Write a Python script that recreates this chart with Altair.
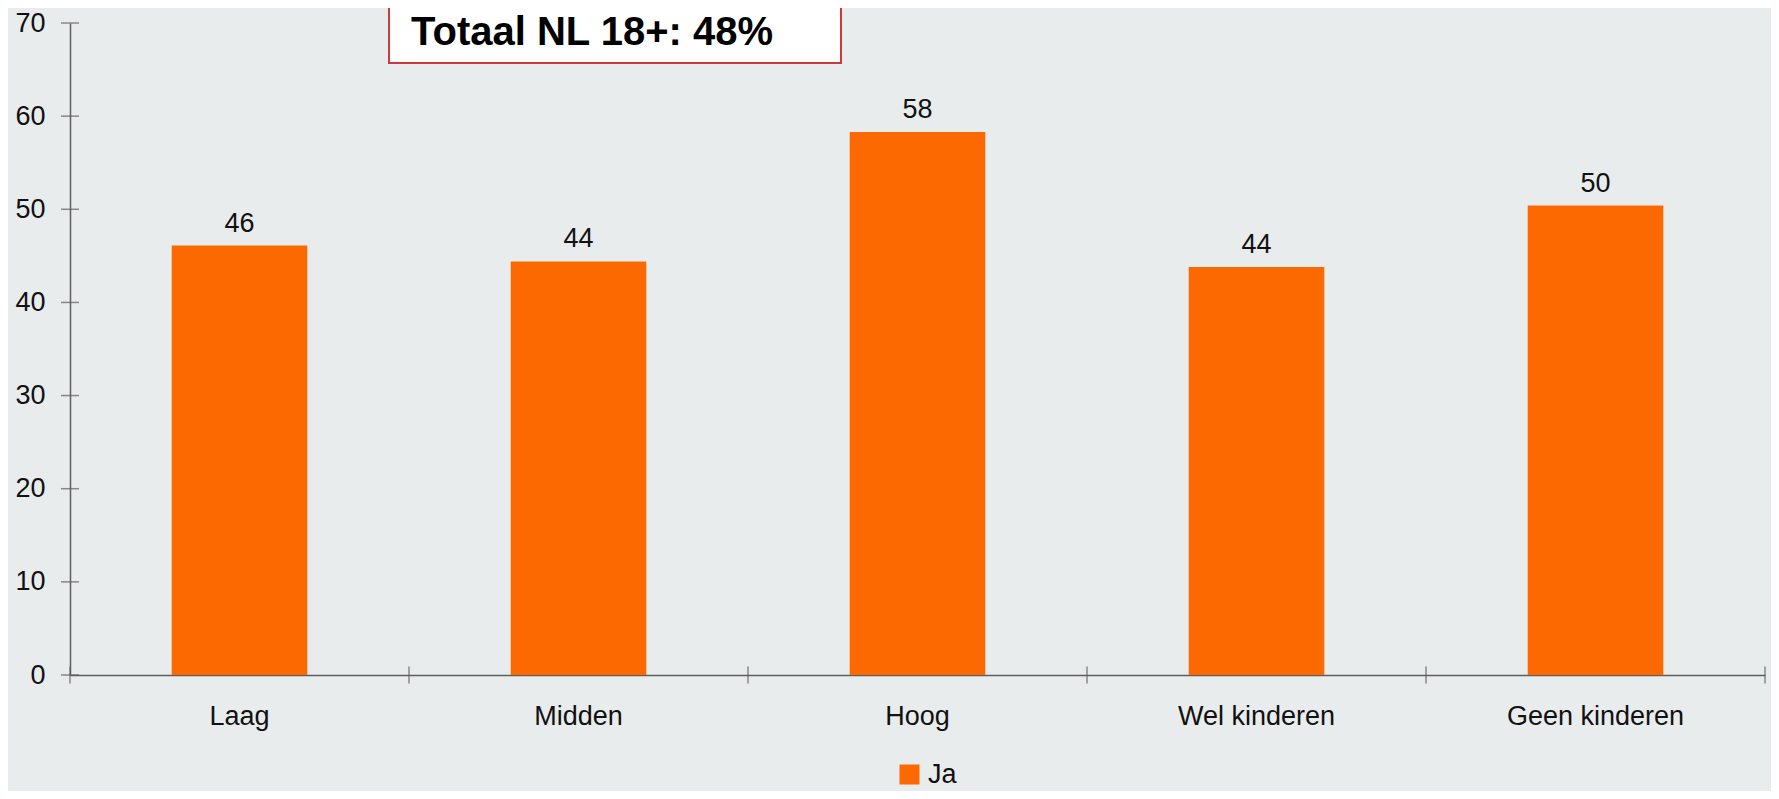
import altair as alt
import pandas as pd

# ---- data ----
categories = ["Laag", "Midden", "Hoog", "Wel kinderen", "Geen kinderen"]
values = [46.1, 44.4, 58.3, 43.8, 50.4]
series_name = "Ja"
y_ticks = [0, 10, 20, 30, 40, 50, 60, 70]
title_text = "Totaal NL 18+: 48%"

# ---- style ----
ORANGE = "#FB6900"
BG = "#E9ECED"
AXIS = "#5E5E5E"
TXT = "#111111"
FONT = "Liberation Sans"
W, H = 1695, 652

df = pd.DataFrame({"cat": categories, "val": values, "series": [series_name] * len(categories)})
ydf = pd.DataFrame({"t": y_ticks})
xdf = pd.DataFrame({"b": list(range(len(categories) + 1)), "base": [0] * (len(categories) + 1)})
tdf = pd.DataFrame({"t": [title_text]})

band = alt.Scale(type="band", paddingInner=0.6, paddingOuter=0.3)
y_scale = alt.Scale(domain=[0, 70], nice=False)
y_axis = alt.Axis(title=None, values=y_ticks, ticks=False, labelFontSize=27, labelPadding=25,
                  labelFont=FONT, labelColor=TXT, domainColor=AXIS, domainWidth=1.5, grid=False)

bars = alt.Chart(df).mark_bar(color=ORANGE).encode(
    x=alt.X("cat:N", sort=categories, scale=band,
            axis=alt.Axis(title=None, ticks=False, labelAngle=0, labelFontSize=27, labelPadding=28,
                          labelFont=FONT, labelColor=TXT, domainColor=AXIS, domainWidth=1.5)),
    y=alt.Y("val:Q", scale=y_scale, axis=y_axis),
    color=alt.Color("series:N", scale=alt.Scale(range=[ORANGE]),
                    legend=alt.Legend(orient="none", legendX=826, legendY=738, title=None,
                                      symbolType="square", symbolSize=400, symbolStrokeWidth=0,
                                      symbolOpacity=1, labelFontSize=27, labelFont=FONT,
                                      labelColor=TXT, labelOffset=5)),
)

labels = alt.Chart(df).mark_text(dy=-14, baseline="alphabetic", fontSize=27, font=FONT, color=TXT).encode(
    x=alt.X("cat:N", sort=categories, scale=band, axis=None),
    y=alt.Y("val:Q", scale=y_scale, axis=y_axis),
    text=alt.Text("val:Q", format=".0f"),
)

yticks = alt.Chart(ydf).mark_tick(orient="horizontal", size=18, thickness=1.5, color=AXIS).encode(
    y=alt.Y("t:Q", scale=y_scale, axis=y_axis),
    x=alt.value(0),
)

xticks = alt.Chart(xdf).mark_tick(orient="vertical", size=17, thickness=1.5, color=AXIS).encode(
    x=alt.X("b:Q", scale=alt.Scale(domain=[0, len(categories)], nice=False, zero=False), axis=None),
    y=alt.Y("base:Q", scale=y_scale, axis=y_axis),
)

box = alt.Chart(tdf).mark_rect(fill="white", stroke="#D0393C", strokeWidth=2).encode(
    x=alt.value(319), x2=alt.value(771), y=alt.value(-30), y2=alt.value(40)
)
box_text = alt.Chart(tdf).mark_text(align="left", baseline="middle", fontSize=40, fontWeight="bold",
                                    font=FONT, color="#000000").encode(
    x=alt.value(341), y=alt.value(10), text="t:N"
)

chart = alt.layer(bars, labels, yticks, xticks, box, box_text).resolve_scale(x="independent").properties(
    width=W, height=H,
    autosize=alt.AutoSizeParams(type="none"),
    padding={"left": 62, "top": 15, "right": 6, "bottom": 116},
    background=BG,
).configure_view(stroke=None)

chart.save("out.html", embed_options={"renderer": "svg", "actions": False})
